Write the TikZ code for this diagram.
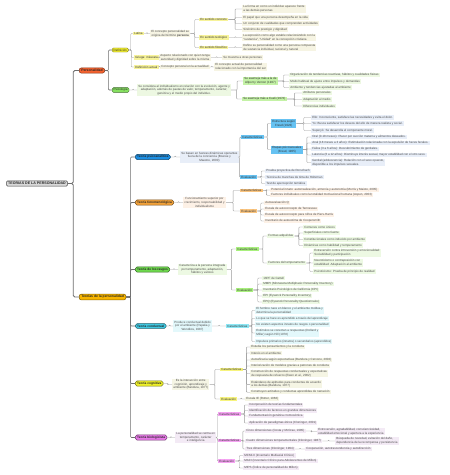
\documentclass[tikz,border=0pt]{standalone}
\usepackage{fontspec}
\setmainfont{Liberation Sans}
\usetikzlibrary{calc}
\definecolor{cLine}{HTML}{9A9A9A}
\definecolor{cLineD}{HTML}{6E6E6E}
\definecolor{cRootF}{HTML}{D9D9D9}
\definecolor{cRootD}{HTML}{444444}
\definecolor{cPer}{HTML}{F4622F}
\definecolor{cTeo}{HTML}{F7B500}
\definecolor{cDef}{HTML}{F2EE30}
\definecolor{cYs}{HTML}{F7F39A}
\definecolor{cBei}{HTML}{F6F4E3}
\definecolor{cPsi}{HTML}{86E060}
\definecolor{cPsiS}{HTML}{C4F2A6}
\definecolor{cPsiL}{HTML}{EDF8E2}
\definecolor{cPa}{HTML}{1C8FE3}
\definecolor{cPaS}{HTML}{66C2F2}
\definecolor{cPaL}{HTML}{E8EEF8}
\definecolor{cHu}{HTML}{F2A23A}
\definecolor{cHuS}{HTML}{FAC47E}
\definecolor{cHuL}{HTML}{FDF1E6}
\definecolor{cRa}{HTML}{6ED84E}
\definecolor{cRaS}{HTML}{A9F07E}
\definecolor{cRaL}{HTML}{EDF9E3}
\definecolor{cCo}{HTML}{3FC9E2}
\definecolor{cCoS}{HTML}{8CE7F5}
\definecolor{cCoL}{HTML}{E3F8FB}
\definecolor{cCg}{HTML}{EEF02A}
\definecolor{cCgS}{HTML}{F7F47E}
\definecolor{cCgL}{HTML}{F5F5E4}
\definecolor{cBi}{HTML}{E67AE6}
\definecolor{cBiS}{HTML}{F5A3F2}
\definecolor{cBiL}{HTML}{F3EAF5}
\tikzset{
  rootbox/.style={draw=cRootD, fill=cRootF, line width=0.5pt, rounded corners=0.8pt,
    inner xsep=1.5pt, inner ysep=1.3pt, font=\fontsize{3.6}{4.2}\selectfont\bfseries, text=black!85},
  mainbox/.style={anchor=west, draw=#1!55!black, fill=#1, line width=0.5pt, rounded corners=2pt,
    inner xsep=2pt, inner ysep=1.3pt, font=\fontsize{3.4}{4}\selectfont\bfseries, text=black!85},
  thbox/.style={anchor=west, draw=#1!50!black, fill=#1, line width=0.5pt, rounded corners=1.8pt,
    inner xsep=1.8pt, inner ysep=1.1pt, font=\fontsize{3.2}{3.8}\selectfont\bfseries, text=black!85},
  midbox/.style={anchor=west, draw=#1!50!black, fill=#1, line width=0.4pt, rounded corners=1.2pt,
    inner xsep=1.5pt, inner ysep=0.9pt, font=\fontsize{3}{3.6}\selectfont, text=black!85},
  subbox/.style={anchor=west, fill=#1, inner xsep=1.2pt, inner ysep=0.8pt,
    font=\fontsize{3}{3.6}\selectfont, text=black!80, align=center},
  leafbox/.style={anchor=west, fill=#1, inner xsep=1.2pt, inner ysep=0.7pt,
    font=\fontsize{3}{3.6}\selectfont, text=black!70, align=left},
  descbox/.style={leafbox=#1, align=center},
  conn/.style={draw=cLine, line width=0.4pt, rounded corners=0.8pt},
  connD/.style={draw=cLineD, line width=0.6pt, rounded corners=1pt},
  connR/.style={draw=cLineD, line width=0.9pt, rounded corners=1.5pt},
}
\newcommand{\mmlink}[3][conn]{\draw[#1] (#2.east) -- ($(#2.east)!0.5!(#2.east -| #3.west)$) |- (#3.west);}
\begin{document}
\begin{tikzpicture}[x=1pt,y=-1pt]
\useasboundingbox[fill=white] (0,0) rectangle (450,475);
% root and main branches
\node[rootbox] (root) at (37,183.5) {TEORIAS DE LA PERSONALIDAD};
\node[mainbox=cPer] (per) at (79,70.5) {Personalidad};
\node[mainbox=cTeo] (teo) at (79,297) {Teorías de la personalidad};
% ---------- Personalidad
\node[midbox=cDef] (def) at (112,50) {Definición};
\node[subbox=cYs] (lat) at (133,33.5) {Latina};
\node[descbox=cBei] (latd) at (150,33.5) {El concepto personalidad se\\origina del término \textbf{persona}};
\node[subbox=cYs] (sc) at (199,19.5) {En sentido concreto};
\node[subbox=cYs] (st) at (199,37.5) {En sentido teológico};
\node[subbox=cYs] (sf) at (199,47.5) {En sentido filosófico};
\node[leafbox=cBei] (sc1) at (242,9) {La forma en como un individuo aparece frente\\a las demás personas};
\node[leafbox=cBei] (sc2) at (242,17.5) {El papel que una persona desempeña en la vida};
\node[leafbox=cBei] (sc3) at (242,23.5) {Un conjunto de cualidades que comprenden actividades};
\node[leafbox=cBei] (sc4) at (242,29.5) {Sinónimo de prestigio y dignidad};
\node[leafbox=cBei] (st1) at (242,37.5) {La expresión como algo estable relacionándolo con la\\“sustancia”, “Unidad” en la concepción cristiana};
\node[leafbox=cBei] (sf1) at (242,47.5) {Define su personalidad como una persona compuesta\\de sustancia individual, racional y natural};
\node[subbox=cYs] (gri) at (134,57.5) {Griega: máscara};
\node[descbox=cBei] (grid) at (159,57.5) {Aspecto relacionado con quien tenga\\autoridad y dignidad sobre la misma};
\node[leafbox=cBei] (gri1) at (222,57.5) {Se muestra a otras personas};
\node[subbox=cYs] (act) at (134,67) {Definición actual};
\node[descbox=cBei] (actd) at (160,67) {Concepto personal en la actualidad};
\node[leafbox=cBei] (act1) at (214,67) {El concepto actual de personalidad\\relacionado con la importancia del ser};
\node[midbox=cPsi] (psi) at (112,90) {Psicología};
\node[descbox=cPsiL] (psid) at (137,90) {Se considera al individualismo en relación con la evolución, agente y\\adaptación, además de pautas de valor, temperamento, carácter,\\genética y el medio propio del individuo.};
\node[subbox=cPsiS] (ps1) at (243,81) {Se asemeja más a la de\\Allport y Vernon (1937)};
\node[leafbox=cPsiL] (ps11) at (289,75) {Organización de tendencias reactivas, hábitos y cualidades físicas};
\node[leafbox=cPsiL] (ps12) at (289,81.5) {Modo habitual de ajuste entre impulsos y demandas};
\node[leafbox=cPsiL] (ps13) at (289,87.5) {Ambiente y tendencias ajustadas al ambiente};
\node[subbox=cPsiS] (ps2) at (242,99) {Se asemeja más a Cueli (1972)};
\node[leafbox=cPsiL] (ps21) at (302,93) {Atributos personales};
\node[leafbox=cPsiL] (ps22) at (302,99.5) {Adaptación al medio};
\node[leafbox=cPsiL] (ps23) at (302,106) {Diferencias individuales};
% ---------- Psicoanalitica
\node[thbox=cPa] (pa) at (135,157) {Teoría psicoanalítica};
\node[descbox=cPaL] (pad) at (180,157) {Se basan en fuerzas dinámicas operantes\\fuera de la conciencia (Boeree y\\Maestre, 2000)};
\node[subbox=cPaS] (pac) at (241,137) {Características};
\node[subbox=cPaS] (pae) at (271,123.5) {Estructura según\\Freud (1923)};
\node[leafbox=cPaL] (pae1) at (311,117.5) {Ello: Inconsciente, satisface las necesidades y evita el dolor.};
\node[leafbox=cPaL] (pae2) at (311,123.5) {Yo: Busca satisfacer los deseos del ello de manera realista y social.};
\node[leafbox=cPaL] (pae3) at (311,130.5) {Superyó: Se desarrolla el componente moral.};
\node[subbox=cPaS] (pap) at (271,149.5) {Etapas psicosexuales\\(Freud, 1905)};
\node[leafbox=cPaL] (pap1) at (311,137) {Oral (0-18 meses): Placer por succión materna y alimentos deseados.};
\node[leafbox=cPaL] (pap2) at (311,143) {Anal (18 meses a 3 años): Estimulación relacionada con la expulsión de heces fecales.};
\node[leafbox=cPaL] (pap3) at (311,149) {Fálica (3 a 6 años): Descubrimiento de genitales.};
\node[leafbox=cPaL] (pap4) at (311,155) {Latencia (6 a 12 años): Disminuye interés sexual, mayor estabilidad con el otro sexo.};
\node[leafbox=cPaL] (pap5) at (311,162.5) {Genital (adolescencia): Relación con el sexo opuesto,\\disponible a los impulsos sexuales.};
\node[subbox=cPaS] (pav) at (240,177) {Evaluación};
\node[leafbox=cPaL] (pav1) at (265,171) {Prueba proyectiva de Rorschach};
\node[leafbox=cPaL] (pav2) at (265,177) {Técnica de manchas de tinta de Holtzman};
\node[leafbox=cPaL] (pav3) at (265,183.5) {Test de apercepción temática};
% ---------- Humanista / fenomenologica
\node[thbox=cHu] (hu) at (135,202.5) {Teoría fenomenológica};
\node[descbox=cHuL] (hud) at (183,202.5) {Funcionamiento superior por\\crecimiento, responsabilidad y\\individualismo};
\node[subbox=cHuS] (huc) at (240,190.5) {Características};
\node[leafbox=cHuL] (huc1) at (270,190) {Potencial innato: autorrealización, armonía y autonomía (Morris y Maisto, 2005)};
\node[leafbox=cHuL] (huc2) at (270,195.2) {Factores individuales como la totalidad motivacional humana (Aspen, 2003)};
\node[subbox=cHuS] (huv) at (240,211) {Evaluación};
\node[leafbox=cHuL] (huv1) at (264,203) {Autoevaluación Q};
\node[leafbox=cHuL] (huv2) at (264,209) {Escala de autoconcepto de Tennessee};
\node[leafbox=cHuL] (huv3) at (264,215) {Escala de autoconcepto para niños de Piers-Harris};
\node[leafbox=cHuL] (huv4) at (264,221) {Inventario de autoestima de Coopersmith};
% ---------- Rasgos
\node[thbox=cRa] (ra) at (135,269.5) {Teoría de los rasgos};
\node[descbox=cRaL] (rad) at (178,269.5) {Caracteriza a la persona integrada\\por temperamento, adaptación,\\hábitos y valores};
\node[subbox=cRaS] (rac) at (236,249) {Características};
\node[leafbox=cRaL] (raf) at (267,236) {Formas adquiridas};
\node[leafbox=cRaL] (raf1) at (303,227) {Comunes como únicos};
\node[leafbox=cRaL] (raf2) at (303,233) {Superficiales como fuente};
\node[leafbox=cRaL] (raf3) at (303,239.5) {Constitucionales como inducido por ambiente};
\node[leafbox=cRaL] (raf4) at (303,245.5) {Dinámicas como habilidad y temperamento};
\node[leafbox=cRaL] (rat) at (267,263) {Factores del temperamento};
\node[leafbox=cRaL] (rat1) at (313,253) {Extraversión contra introversión y emocionalidad:\\Sociabilidad y participación};
\node[leafbox=cRaL] (rat2) at (313,263) {Neuroticismo o contraposición con\\estabilidad: Adaptación al ambiente};
\node[leafbox=cRaL] (rat3) at (313,271.5) {Psicoticismo: Prueba de principio de realidad};
\node[subbox=cRaS] (rav) at (236,290) {Evaluación};
\node[leafbox=cRaL] (rav1) at (262,278) {16PF de Cattell};
\node[leafbox=cRaL] (rav2) at (262,284) {MMPI (Minnesota Multiphasic Personality Inventory)};
\node[leafbox=cRaL] (rav3) at (262,290) {Inventario Psicológico de California (CPI)};
\node[leafbox=cRaL] (rav4) at (262,296) {EPI (Eysenck Personality Inventory)};
\node[leafbox=cRaL] (rav5) at (262,302) {EPQ (Eysenck Personality Questionnaire)};
% ---------- Conductual
\node[thbox=cCo] (co) at (135,326) {Teoría conductual};
\node[descbox=cCoL] (cod) at (173,326) {Produce conductual debido\\por el ambiente (Papalia y\\Wendkos, 1987)};
\node[subbox=cCoS] (coc) at (226,326) {Características};
\node[leafbox=cCoL] (coc1) at (255,310.5) {El hombre nace en blanco y el ambiente moldea y\\determina la personalidad};
\node[leafbox=cCoL] (coc2) at (255,318.5) {Lo que se hace es aprendido a través del aprendizaje};
\node[leafbox=cCoL] (coc3) at (255,324.5) {No existen aspectos innatos de rasgos o personalidad};
\node[leafbox=cCoL] (coc4) at (255,333) {Estímulos se conectan a respuestas (Dollard y\\Miller) según Hill (1978)};
\node[leafbox=cCoL] (coc5) at (255,341.5) {Impulsos primarios (innatos) o secundarios (aprendidos)};
% ---------- Cognitiva
\node[thbox=cCg] (cg) at (135,383.5) {Teoría cognitiva};
\node[descbox=cCgL] (cgd) at (172,384.5) {Es la interacción entre\\cognición, aprendizaje y\\ambiente (Bandura, 1977)};
\node[subbox=cCgS] (cgc) at (220,369.5) {Características};
\node[leafbox=cCgL] (cgc1) at (250,347) {Estudia los pensamientos y la conducta};
\node[leafbox=cCgL] (cgc2) at (250,353) {Interés en el ambiente};
\node[leafbox=cCgL] (cgc3) at (250,360) {Autoeficacia según expectativas (Bandura y Cervone, 2002)};
\node[leafbox=cCgL] (cgc4) at (250,366) {Interiorización de modelos gracias a patrones de conducta};
\node[leafbox=cCgL] (cgc5) at (250,373.5) {Construcción de respuestas conductuales y expectativas\\de respuesta de refuerzo (Ewen et al., 2002)};
\node[leafbox=cCgL] (cgc6) at (250,384.3) {Estándares de aptitudes para conductas de acuerdo\\a los demás (Bandura, 1977)};
\node[leafbox=cCgL] (cgc7) at (250,392.2) {Construyen actitudes y conductas aprendidas de narración};
\node[subbox=cCgS] (cgv) at (220,399) {Evaluación};
\node[leafbox=cCgL] (cgv1) at (245,399) {Escala IE (Rotter, 1966)};
% ---------- Biologicista
\node[thbox=cBi] (bi) at (135,437.5) {Teoría biologicista};
\node[descbox=cBiL] (bid) at (175,437.5) {La personalidad se centra en\\temperamento, carácter\\e inteligencia};
\node[subbox=cBiS] (bic) at (218,414) {Características};
\node[leafbox=cBiL] (bic1) at (248,405) {Incorporación de teorías fundamentales};
\node[leafbox=cBiL] (bic2) at (248,410.5) {Identificación de factores en grandes dimensiones};
\node[leafbox=cBiL] (bic3) at (248,416) {Fundamentación genética cromosómica};
\node[leafbox=cBiL] (bic4) at (248,423) {Aplicación de paradigmas éticos (Cloninger, 2001)};
\node[subbox=cBiS] (bim) at (218,440.5) {Características};
\node[leafbox=cBiL] (bim1) at (245,431) {Cinco dimensiones (Costa y McCrae, 1985)};
\node[leafbox=cBiL] (bim1d) at (317,431.5) {Extroversión, agradabilidad, conscienciosidad,\\estabilidad emocional y apertura a la experiencia};
\node[leafbox=cBiL] (bim2) at (245,441) {Cuatro dimensiones temperamentales (Cloninger, 1987)};
\node[leafbox=cBiL] (bim2d) at (335,441) {Búsqueda de novedad, evitación del daño,\\dependencia de la recompensa y persistencia};
\node[leafbox=cBiL] (bim3) at (245,449) {Tres dimensiones (Cloninger, 1994)};
\node[leafbox=cBiL] (bim3d) at (305,449) {Cooperación, autotrascendencia y autodirección};
\node[subbox=cBiS] (biv) at (218,461) {Evaluación};
\node[leafbox=cBiL] (biv1) at (243,455.5) {MCMI-II (Inventario Multiaxial Clínico)};
\node[leafbox=cBiL] (biv2) at (243,461) {MACI (Inventario Clínico para Adolescentes de Millon)};
\node[leafbox=cBiL] (biv3) at (243,468) {MIPS (Índice de personalidad de Millon)};
% ---------- connectors
\begin{scope}[on background layer/.style={}]
\mmlink[connR]{root}{per}
\mmlink[connR]{root}{teo}
\mmlink[connD]{per}{def}
\mmlink[connD]{per}{psi}
\foreach \c in {lat,gri,act} {\mmlink{def}{\c}}
\mmlink{lat}{latd}
\foreach \c in {sc,st,sf} {\mmlink{latd}{\c}}
\foreach \c in {sc1,sc2,sc3,sc4} {\mmlink{sc}{\c}}
\mmlink{st}{st1}
\mmlink{sf}{sf1}
\mmlink{gri}{grid}
\mmlink{grid}{gri1}
\mmlink{act}{actd}
\mmlink{actd}{act1}
\mmlink{psi}{psid}
\foreach \c in {ps1,ps2} {\mmlink{psid}{\c}}
\foreach \c in {ps11,ps12,ps13} {\mmlink{ps1}{\c}}
\foreach \c in {ps21,ps22,ps23} {\mmlink{ps2}{\c}}
\foreach \c in {pa,hu,ra,co,cg,bi} {\mmlink[connD]{teo}{\c}}
\mmlink{pa}{pad}
\foreach \c in {pac,pav} {\mmlink{pad}{\c}}
\foreach \c in {pae,pap} {\mmlink{pac}{\c}}
\foreach \c in {pae1,pae2,pae3} {\mmlink{pae}{\c}}
\foreach \c in {pap1,pap2,pap3,pap4,pap5} {\mmlink{pap}{\c}}
\foreach \c in {pav1,pav2,pav3} {\mmlink{pav}{\c}}
\mmlink{hu}{hud}
\foreach \c in {huc,huv} {\mmlink{hud}{\c}}
\foreach \c in {huc1,huc2} {\mmlink{huc}{\c}}
\foreach \c in {huv1,huv2,huv3,huv4} {\mmlink{huv}{\c}}
\mmlink{ra}{rad}
\foreach \c in {rac,rav} {\mmlink{rad}{\c}}
\foreach \c in {raf,rat} {\mmlink{rac}{\c}}
\foreach \c in {raf1,raf2,raf3,raf4} {\mmlink{raf}{\c}}
\foreach \c in {rat1,rat2,rat3} {\mmlink{rat}{\c}}
\foreach \c in {rav1,rav2,rav3,rav4,rav5} {\mmlink{rav}{\c}}
\mmlink{co}{cod}
\mmlink{cod}{coc}
\foreach \c in {coc1,coc2,coc3,coc4,coc5} {\mmlink{coc}{\c}}
\mmlink{cg}{cgd}
\foreach \c in {cgc,cgv} {\mmlink{cgd}{\c}}
\foreach \c in {cgc1,cgc2,cgc3,cgc4,cgc5,cgc6,cgc7} {\mmlink{cgc}{\c}}
\mmlink{cgv}{cgv1}
\mmlink{bi}{bid}
\foreach \c in {bic,bim,biv} {\mmlink{bid}{\c}}
\foreach \c in {bic1,bic2,bic3,bic4} {\mmlink{bic}{\c}}
\foreach \c in {bim1,bim2,bim3} {\mmlink{bim}{\c}}
\mmlink{bim1}{bim1d}
\mmlink{bim2}{bim2d}
\mmlink{bim3}{bim3d}
\foreach \c in {biv1,biv2,biv3} {\mmlink{biv}{\c}}
\end{scope}
\end{tikzpicture}
\end{document}
